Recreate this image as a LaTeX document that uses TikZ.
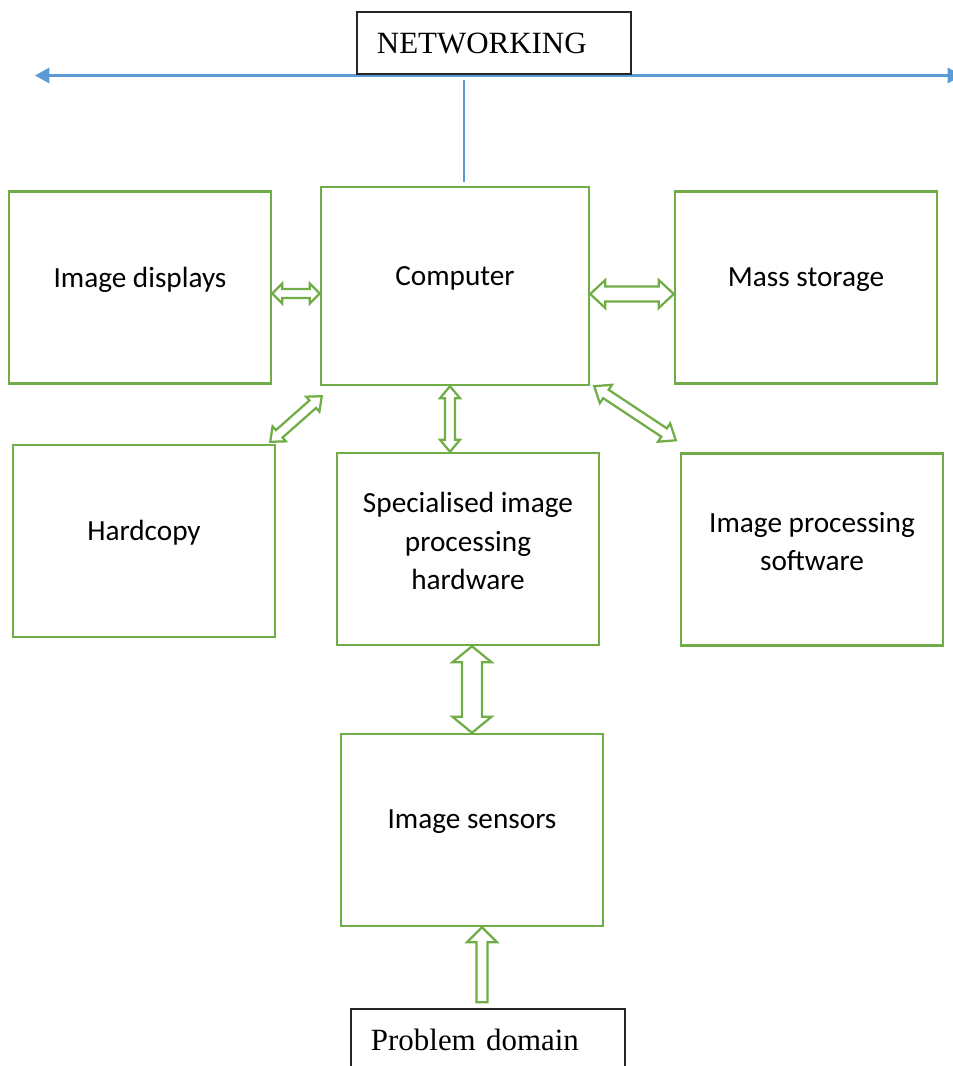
\documentclass[tikz,border=0pt]{standalone}
\usepackage{fontspec}
\setmainfont{Carlito}
\newfontfamily\timesfont{Liberation Serif}
\usetikzlibrary{calc,arrows.meta}
\definecolor{boxgreen}{HTML}{70AD47}
\definecolor{netblue}{HTML}{5B9BD5}
\newcommand{\pxu}{0.025cm}
% hollow arrow with two heads: from, to, half shaft, half head, head length (px)
\newcommand{\twoway}[5]{%
  \coordinate (ha) at ($(#1)!#5*\pxu!(#2)$);
  \coordinate (hb) at ($(#2)!#5*\pxu!(#1)$);
  \draw[hollow] (#1) -- ($(ha)!#4*\pxu!90:(#2)$) -- ($(ha)!#3*\pxu!90:(#2)$)
    -- ($(hb)!#3*\pxu!-90:(#1)$) -- ($(hb)!#4*\pxu!-90:(#1)$) -- (#2)
    -- ($(hb)!#4*\pxu!90:(#1)$) -- ($(hb)!#3*\pxu!90:(#1)$)
    -- ($(ha)!#3*\pxu!-90:(#2)$) -- ($(ha)!#4*\pxu!-90:(#2)$) -- cycle;}
% hollow arrow with one head: tail, tip, half shaft, half head, head length (px)
\newcommand{\oneway}[5]{%
  \coordinate (hb) at ($(#2)!#5*\pxu!(#1)$);
  \draw[hollow] ($(#1)!#3*\pxu!90:(#2)$) -- ($(hb)!#3*\pxu!-90:(#1)$)
    -- ($(hb)!#4*\pxu!-90:(#1)$) -- (#2) -- ($(hb)!#4*\pxu!90:(#1)$)
    -- ($(hb)!#3*\pxu!90:(#1)$) -- ($(#1)!#3*\pxu!-90:(#2)$) -- cycle;}
\tikzset{
  box/.style={draw=boxgreen, line width=1.7pt, minimum width=6.55cm, minimum height=4.8cm,
    label={[boxtext, yshift=0.2cm]center:#1}},
  boxtext/.style={align=center, font=\fontsize{20.8}{27.6}\selectfont},
  plate/.style={draw=black!85, line width=1pt, fill=white, align=left, inner xsep=0.5cm,
    text width=5.85cm, minimum height=1.55cm, font=\timesfont\fontsize{22}{26}\selectfont},
  hollow/.style={draw=boxgreen, fill=white, line width=1.6pt},
  bus/.style={netblue, line width=2.1pt,
    {Triangle[length=0.36cm,width=0.38cm]}-{Triangle[length=0.36cm,width=0.38cm]}},
}
\begin{document}
\begin{tikzpicture}[x=0.025cm,y=-0.025cm]
    \useasboundingbox (0,0) rectangle (953,1066);
    % networking line
    \coordinate (busL) at (35,75.5);
    \coordinate (busR) at (962,75.5);
    \draw[bus] (busL) -- (busR);
    \node[plate] (net) at (494,43) {NETWORKING};
    % boxes
    \node[box=Computer, minimum width=6.7cm, minimum height=4.95cm] (comp) at (455,286) {};
    \node[box={Image displays}] (disp) at (140,287.5) {};
    \node[box={Mass storage}] (mass) at (806,287.5) {};
    \node[box=Hardcopy] (hard) at (144,541) {};
    \node[box={Specialised image\\processing\\hardware}] (spec) at (468,549) {};
    \node[box={Image processing\\software}] (soft) at (812,549.5) {};
    \node[box={Image sensors}] (sens) at (472,830) {};
    \node[plate] (prob) at (488,1040) {Problem domain};
    \draw[netblue,line width=0.8pt] ($(comp.north)+(9,-4)$) -- ($(comp.north |- net.south)+(9,5)$);
    % hollow arrows
    \coordinate (d1) at ($(disp.east)+(0,6)$);
    \coordinate (c1) at (comp.west |- d1);
    \twoway{d1}{c1}{4.5}{10}{10}
    \coordinate (c2) at ($(comp.east)+(0,8)$);
    \coordinate (m1) at (mass.west |- c2);
    \twoway{c2}{m1}{7.5}{14}{15}
    \coordinate (h1) at ($(hard.north east)+(-6,-2)$);
    \coordinate (c3) at ($(comp.south west)+(2,10)$);
    \twoway{h1}{c3}{5}{10}{12}
    \coordinate (c4) at ($(comp.south)+(-5,0)$);
    \coordinate (s1) at (spec.north -| c4);
    \twoway{c4}{s1}{5}{10}{12}
    \coordinate (c5) at ($(comp.south east)+(4,0)$);
    \coordinate (o1) at ($(soft.north west)+(-4,-12)$);
    \twoway{c5}{o1}{5}{11}{14}
    \coordinate (s2) at (spec.south -| sens.north);
    \twoway{s2}{sens.north}{10}{19.5}{16}
    \coordinate (p1) at ($(sens.south)+(10,0)$);
    \coordinate (p0) at ($(prob.north -| p1)+(0,-6)$);
    \oneway{p0}{p1}{5.5}{15}{15}
\end{tikzpicture}
\end{document}
